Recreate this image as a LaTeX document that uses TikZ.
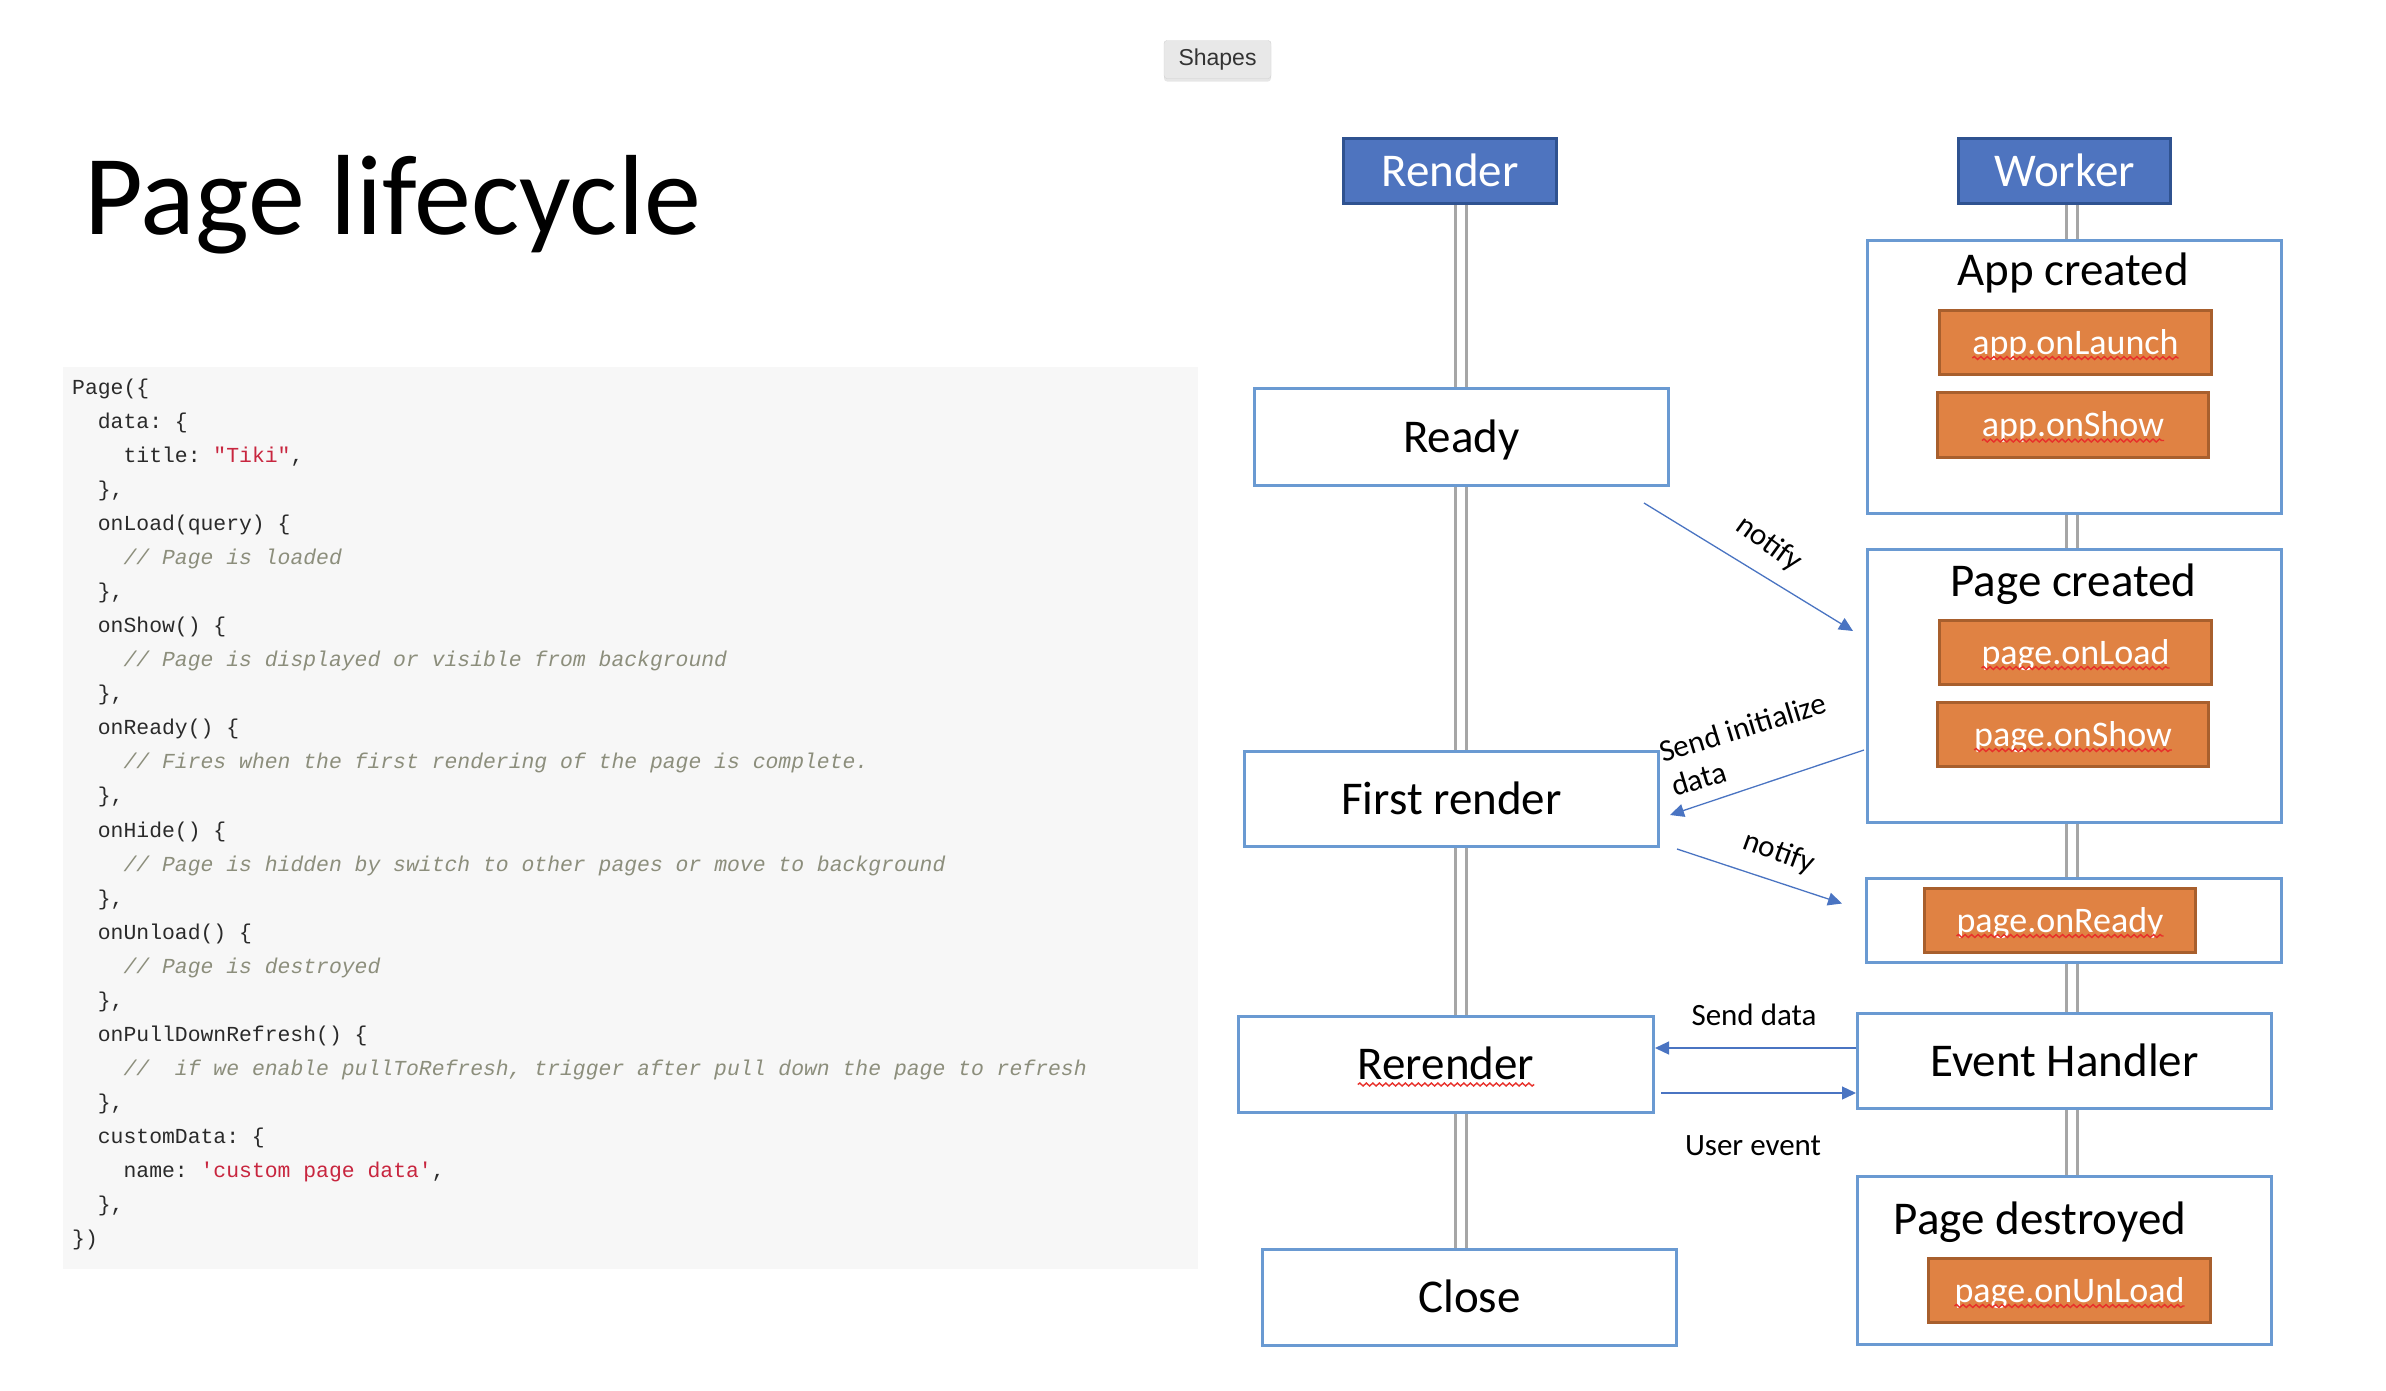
\documentclass[tikz,border=0pt]{standalone}
\usepackage{fontspec}
\setmainfont{Carlito}
\setmonofont{Liberation Mono}
\newfontfamily\uifont{Liberation Sans}
\usetikzlibrary{arrows.meta,shadows,backgrounds,decorations.pathmorphing}
\definecolor{boxblue}{HTML}{6A9AD2}
\definecolor{hdrfill}{HTML}{4E74BF}
\definecolor{hdrdraw}{HTML}{2F5290}
\definecolor{orfill}{HTML}{E08243}
\definecolor{ordraw}{HTML}{A85F2D}
\definecolor{arrblue}{HTML}{4A74C2}
\definecolor{lifegray}{HTML}{A6A6A6}
\definecolor{codebg}{HTML}{F7F7F7}
\definecolor{codefg}{HTML}{2A2A2A}
\definecolor{codecmt}{HTML}{8C8E7C}
\definecolor{codestr}{HTML}{C8263F}
\definecolor{spellred}{HTML}{E8302A}
\newlength\wRr \newlength\wLa \newlength\wAs \newlength\wPl
\newlength\wPs \newlength\wPr \newlength\wPu
% #1 node, #2 text width, #3 drop below node centre
\newcommand\wavy[3]{%
  \draw[spellwave] ([xshift=-0.5#2, yshift=-#3]#1.center) -- ([xshift=0.5#2, yshift=-#3]#1.center);}
\newcommand\cmt{\color{codecmt}\itshape}
\newcommand\codeln[3]{\node[codetxt, anchor=base west] (c#1) at ({72+12.85*#2},{394.5+34.04*#1}) {#3};}
\begin{document}
\settowidth\wRr{\fontsize{47}{47}\selectfont Rerender}%
\settowidth\wLa{\fontsize{36}{36}\selectfont app.onLaunch}%
\settowidth\wAs{\fontsize{36}{36}\selectfont app.onShow}%
\settowidth\wPl{\fontsize{36}{36}\selectfont page.onLoad}%
\settowidth\wPs{\fontsize{36}{36}\selectfont page.onShow}%
\settowidth\wPr{\fontsize{36}{36}\selectfont page.onReady}%
\settowidth\wPu{\fontsize{36}{36}\selectfont page.onUnLoad}%
\begin{tikzpicture}[x=1pt,y=-1pt,
  stage/.style={draw=boxblue, line width=3pt, fill=white, inner sep=0pt,
    font=\fontsize{47}{56}\selectfont, text height=30pt, text depth=0pt},
  hdr/.style={draw=hdrdraw, fill=hdrfill, line width=3pt, text=white, inner sep=0pt,
    font=\fontsize{47}{56}\selectfont, text height=30pt, text depth=0pt},
  hook/.style={draw=ordraw, fill=orfill, line width=3pt, text=white, inner sep=0pt,
    font=\fontsize{36}{43}\selectfont, text height=23pt, text depth=0pt},
  boxtitle/.style={inner sep=0pt, anchor=base, font=\fontsize{47}{56}\selectfont},
  life/.style={draw=lifegray, line width=3pt, double=white, double distance=8pt},
  lbl/.style={inner sep=0pt, font=\fontsize{31}{37}\selectfont},
  arr/.style={draw=arrblue, line width=1.3pt, -{Triangle[length=14pt,width=13pt]}},
  spellwave/.style={draw=spellred, line width=1.4pt, decorate,
    decoration={snake, amplitude=1.5pt, segment length=6.5pt}},
  codetxt/.style={inner sep=0pt, text=codefg, font=\ttfamily\fontsize{21.4}{25}\selectfont}
]
\path[use as bounding box] (0,0) rectangle (2386,1390);

% toolbar button
\node[draw=black!18, fill=black!9, rounded corners=3pt, minimum width=107pt, minimum height=38pt,
  inner sep=0pt, font=\uifont\fontsize{23}{27}\selectfont, text=black!80,
  drop shadow={opacity=0.2, shadow xshift=0pt, shadow yshift=-3pt}] (shapes) at (1217.5,59.5) {Shapes};

% title
\node[anchor=base west, inner sep=0pt, font=\fontsize{114}{130}\selectfont] (title) at (84,234) {Page lifecycle};

% code block
\node[fill=codebg, minimum width=1135pt, minimum height=902pt, inner sep=0pt, anchor=north west] (code) at (63,367) {};
\codeln{0}{0}{Page(\{}
\codeln{1}{2}{data: \{}
\codeln{2}{4}{title: \textcolor{codestr}{"Tiki"},}
\codeln{3}{2}{\},}
\codeln{4}{2}{onLoad(query) \{}
\codeln{5}{4}{\cmt // Page is loaded}
\codeln{6}{2}{\},}
\codeln{7}{2}{onShow() \{}
\codeln{8}{4}{\cmt // Page is displayed or visible from background}
\codeln{9}{2}{\},}
\codeln{10}{2}{onReady() \{}
\codeln{11}{4}{\cmt // Fires when the first rendering of the page is complete.}
\codeln{12}{2}{\},}
\codeln{13}{2}{onHide() \{}
\codeln{14}{4}{\cmt // Page is hidden by switch to other pages or move to background}
\codeln{15}{2}{\},}
\codeln{16}{2}{onUnload() \{}
\codeln{17}{4}{\cmt // Page is destroyed}
\codeln{18}{2}{\},}
\codeln{19}{2}{onPullDownRefresh() \{}
\codeln{20}{4}{\cmt //\ \ if we enable pullToRefresh, trigger after pull down the page to refresh}
\codeln{21}{2}{\},}
\codeln{22}{2}{customData: \{}
\codeln{23}{4}{name: \textcolor{codestr}{'custom page data'},}
\codeln{24}{2}{\},}
\codeln{25}{0}{\})}

% Render column
\node[hdr, minimum width=213pt, minimum height=65pt] (render) at (1450,171) {Render};
\node[stage, minimum width=414pt, minimum height=97pt] (ready) at (1461.5,437) {Ready};
\node[stage, minimum width=414pt, minimum height=95pt] (first) at (1451.5,799) {First render};
\node[stage, minimum width=415pt, minimum height=96pt] (rr) at (1446,1064.5) {Rerender};
\node[stage, minimum width=414pt, minimum height=96pt] (close) at (1469.5,1297.5) {Close};

% Worker column
\node[hdr, minimum width=212pt, minimum height=65pt] (worker) at (2064.5,171) {Worker};
\node[stage, minimum width=414pt, minimum height=273pt] (app) at (2074.5,377) {};
\node[boxtitle] (appT) at (2073,285) {App created};
\node[hook, minimum width=272pt, minimum height=64pt] (launch) at (2075.5,342.5) {app.onLaunch};
\node[hook, minimum width=271pt, minimum height=65pt] (ashow) at (2073,425) {app.onShow};
\node[stage, minimum width=414pt, minimum height=273pt] (pagec) at (2074.5,686) {};
\node[boxtitle] (pageT) at (2073.5,596) {Page created};
\node[hook, minimum width=272pt, minimum height=64pt] (pload) at (2075.5,652.5) {page.onLoad};
\node[hook, minimum width=271pt, minimum height=64pt] (pshow) at (2073,734.5) {page.onShow};
\node[stage, minimum width=415pt, minimum height=84pt] (rdybox) at (2074,920.5) {};
\node[hook, minimum width=271pt, minimum height=64pt] (pready) at (2060,920.5) {page.onReady};
\node[stage, minimum width=414pt, minimum height=95pt] (eh) at (2064.5,1061) {Event Handler};
\node[stage, minimum width=414pt, minimum height=168pt] (pdest) at (2064.5,1260.5) {};
\node[boxtitle] (pdT) at (2040,1234) {Page destroyed};
\node[hook, minimum width=282pt, minimum height=64pt] (unload) at (2069.5,1290.5) {page.onUnLoad};

% spell-check underlines
\wavy{rr}{\wRr}{20pt}
\wavy{launch}{\wLa}{15.5pt}
\wavy{ashow}{\wAs}{15.5pt}
\wavy{pload}{\wPl}{15.5pt}
\wavy{pshow}{\wPs}{15.5pt}
\wavy{pready}{\wPr}{15.5pt}
\wavy{unload}{\wPu}{15.5pt}

% lifelines
\begin{scope}[on background layer]
\coordinate (rl) at ([xshift=11pt]render.south);
\draw[life] (rl) -- (rl |- ready.north);
\draw[life] (rl |- ready.south) -- (rl |- first.north);
\draw[life] (rl |- first.south) -- (rl |- rr.north);
\draw[life] (rl |- rr.south) -- (rl |- close.north);
\coordinate (wl) at ([xshift=7pt]worker.south);
\draw[life] (wl) -- (wl |- app.north);
\draw[life] (wl |- app.south) -- (wl |- pagec.north);
\draw[life] (wl |- pagec.south) -- (wl |- rdybox.north);
\draw[life] (wl |- rdybox.south) -- (wl |- eh.north);
\draw[life] (wl |- eh.south) -- (wl |- pdest.north);
\end{scope}

% messages
\draw[arr] ([xshift=-26pt,yshift=-16pt]ready.south east) -- ([xshift=-13pt,yshift=55pt]pagec.west);
\draw[arr] ([xshift=-2pt,yshift=-64pt]pagec.west) -- ([xshift=10pt,yshift=-16pt]first.east);
\draw[arr] ([xshift=17pt,yshift=-1pt]first.south east) -- ([xshift=-23pt,yshift=17pt]rdybox.west);
\coordinate (sdS) at ([yshift=13pt]eh.west);
\draw[arr] (sdS) -- (rr.east |- sdS);
\coordinate (ueE) at ([yshift=-32pt]eh.west);
\coordinate (ueS) at ([xshift=6pt]rr.east);
\draw[arr] (ueS |- ueE) -- (ueE);

\node[lbl, rotate=-36] (nt1) at (1769,544) {notify};
\node[lbl, rotate=17, anchor=base west] (si1) at (1663,763) {Send initialize};
\node[lbl, rotate=17, anchor=base west] (si2) at (1675,797) {data};
\node[lbl, rotate=-20] (nt2) at (1779,853) {notify};
\node[lbl, anchor=base] (sdl) at (1754,1025) {Send data};
\node[lbl, anchor=base] (uel) at (1753,1155) {User event};
\end{tikzpicture}
\end{document}
